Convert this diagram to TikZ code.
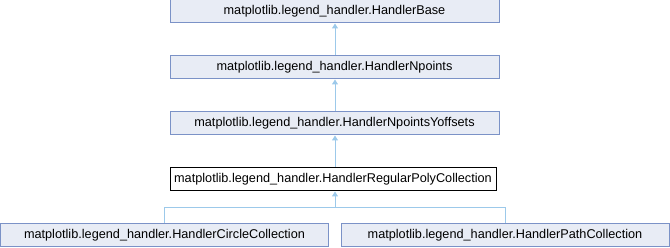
\documentclass[tikz,border=0pt]{standalone}
\usepackage{fontspec}
\setmainfont{Liberation Sans}
\usetikzlibrary{arrows.meta}
\definecolor{boxfill}{HTML}{E8ECF5}
\definecolor{boxline}{HTML}{7B92C7}
\definecolor{edgeblue}{HTML}{9CC9EA}
\begin{document}
\begin{tikzpicture}[x=1pt,y=-1pt,
  cls/.style={draw=boxline, fill=boxfill, line width=1pt, inner sep=0pt, font=\fontsize{12.7}{14}\selectfont},
  current/.style={draw=black, fill=white, line width=1pt, inner sep=0pt, font=\fontsize{12.7}{14}\selectfont},
  inherit/.style={draw=edgeblue, line width=1pt, {Triangle[length=5pt,width=6pt]}-}]
\useasboundingbox (0,0) rectangle (670,248);
% class boxes, drawn as rectangles with centred names
\node[cls, minimum width=329pt, minimum height=23pt] (base) at (334.5,11.5) {matplotlib.legend\_handler.HandlerBase};
\node[cls, minimum width=329pt, minimum height=23pt] (npts) at (334.5,67.5) {matplotlib.legend\_handler.HandlerNpoints};
\node[cls, minimum width=329pt, minimum height=23pt] (yoff) at (334.5,123.5) {matplotlib.legend\_handler.HandlerNpointsYoffsets};
\node[current, minimum width=326pt, minimum height=23pt] (poly) at (333,179.5) {matplotlib.legend\_handler.HandlerRegularPolyCollection};
\node[cls, minimum width=328pt, minimum height=23pt] (circ) at (164.5,235.5) {matplotlib.legend\_handler.HandlerCircleCollection};
\node[cls, minimum width=328pt, minimum height=23pt] (path) at (505,235.5) {matplotlib.legend\_handler.HandlerPathCollection};
% inheritance edges
\draw[inherit] (base.south -| 335,0) -- (npts.north -| 335,0);
\draw[inherit] (npts.south -| 335,0) -- (yoff.north -| 335,0);
\draw[inherit] (yoff.south -| 335,0) -- (poly.north -| 335,0);
\coordinate (split) at (335,207.5);
\draw[inherit] (poly.south -| split) -- (split) -| (circ.north);
\draw[draw=edgeblue, line width=1pt] (split) -| (path.north);
\end{tikzpicture}
\end{document}
